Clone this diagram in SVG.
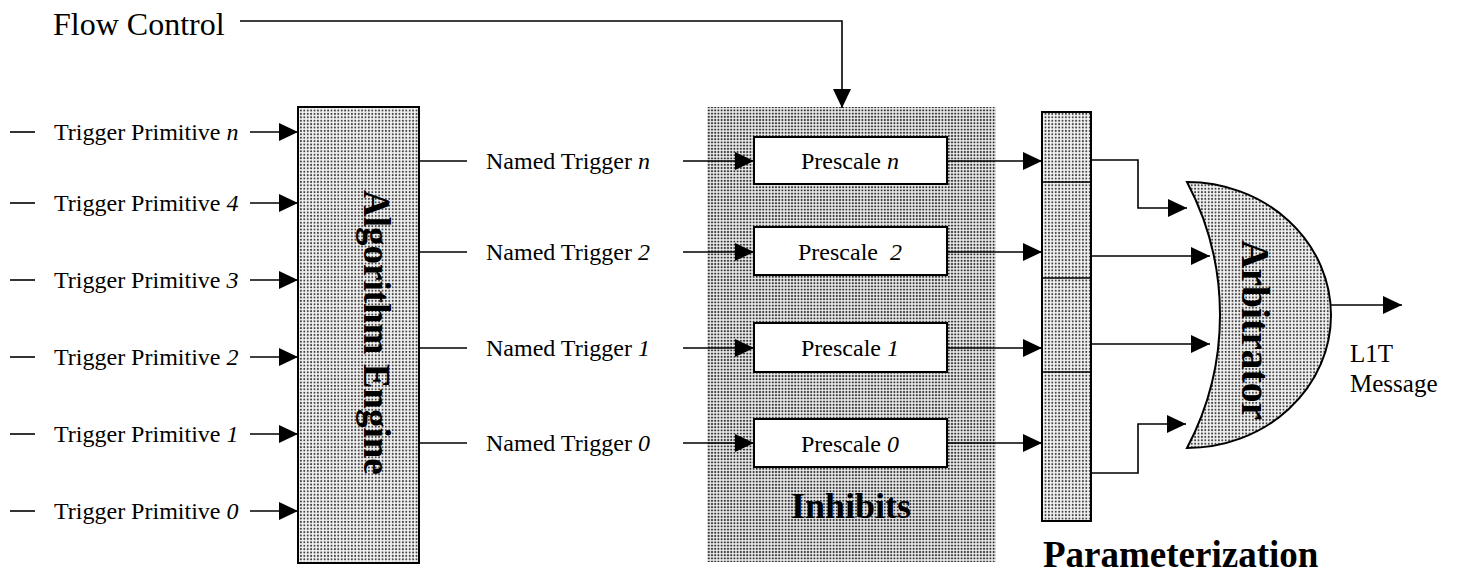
<svg xmlns="http://www.w3.org/2000/svg" width="1459" height="576" viewBox="0 0 1459 576">
<defs>
<pattern id="dots" width="3.4" height="3.4" patternUnits="userSpaceOnUse">
<rect width="3.4" height="3.4" fill="#f4f4f4"/>
<circle cx="1.7" cy="1.7" r="1" fill="#404040"/>
</pattern>
<pattern id="dotsdark" width="3.2" height="3.2" patternUnits="userSpaceOnUse">
<rect width="3.2" height="3.2" fill="#ececec"/>
<circle cx="1.6" cy="1.6" r="1.05" fill="#2e2e2e"/>
</pattern>
<marker id="ah" viewBox="0 0 19 18" refX="19" refY="9" markerWidth="19" markerHeight="18" markerUnits="userSpaceOnUse" orient="auto">
<path d="M0,0 L19,9 L0,18 z" fill="#000"/>
</marker>
</defs>
<style>
.lbl{font-family:"Liberation Serif","Times New Roman",serif;font-size:24px;fill:#000}
.big{font-family:"Liberation Serif","Times New Roman",serif;font-weight:bold;fill:#000}
.it{font-style:italic}
.box{fill:url(#dots);stroke:#000;stroke-width:2}
.pbox{fill:#fff;stroke:#000;stroke-width:2}
.ln{fill:none;stroke:#000;stroke-width:1.6}
.arr{fill:none;stroke:#000;stroke-width:1.6;marker-end:url(#ah)}
</style>

<g id="flow-control">
<text class="lbl" x="53" y="35" style="font-size:32px">Flow Control</text>
</g>

<g id="trigger-primitives">
<text class="lbl" x="54" y="140">Trigger Primitive <tspan class="it">n</tspan></text>
<text class="lbl" x="54" y="211">Trigger Primitive <tspan class="it">4</tspan></text>
<text class="lbl" x="54" y="288">Trigger Primitive <tspan class="it">3</tspan></text>
<text class="lbl" x="54" y="365">Trigger Primitive <tspan class="it">2</tspan></text>
<text class="lbl" x="54" y="442">Trigger Primitive <tspan class="it">1</tspan></text>
<text class="lbl" x="54" y="519">Trigger Primitive <tspan class="it">0</tspan></text>
</g>

<g id="algorithm-engine">
<rect class="box" x="298" y="107" width="121" height="456"/>
<text class="big" style="font-size:37px" transform="translate(364,190) rotate(90)">Algorithm Engine</text>
</g>

<g id="named-triggers">
<text class="lbl" x="486" y="169">Named Trigger <tspan class="it">n</tspan></text>
<text class="lbl" x="486" y="260">Named Trigger <tspan class="it">2</tspan></text>
<text class="lbl" x="486" y="356">Named Trigger <tspan class="it">1</tspan></text>
<text class="lbl" x="486" y="451">Named Trigger <tspan class="it">0</tspan></text>
</g>

<g id="inhibits">
<rect x="707" y="107" width="289" height="455" fill="url(#dotsdark)"/>
<text class="big" x="851" y="518" text-anchor="middle" style="font-size:36px">Inhibits</text>
</g>

<g id="prescale-n">
<rect class="pbox" x="754" y="137" width="193" height="47"/>
<text class="lbl" x="850" y="169" text-anchor="middle">Prescale <tspan class="it">n</tspan></text>
</g>
<g id="prescale-2">
<rect class="pbox" x="754" y="227" width="193" height="48"/>
<text class="lbl" x="850" y="260" text-anchor="middle" xml:space="preserve">Prescale  <tspan class="it">2</tspan></text>
</g>
<g id="prescale-1">
<rect class="pbox" x="754" y="323" width="193" height="49"/>
<text class="lbl" x="850" y="356" text-anchor="middle">Prescale <tspan class="it">1</tspan></text>
</g>
<g id="prescale-0">
<rect class="pbox" x="754" y="419" width="193" height="48"/>
<text class="lbl" x="850" y="452" text-anchor="middle">Prescale <tspan class="it">0</tspan></text>
</g>

<g id="parameterization">
<rect class="box" x="1042" y="112" width="49" height="409"/>
<line class="ln" x1="1042" y1="182" x2="1091" y2="182"/>
<line class="ln" x1="1042" y1="278" x2="1091" y2="278"/>
<line class="ln" x1="1042" y1="372" x2="1091" y2="372"/>
<text class="big" x="1043" y="567" style="font-size:37px">Parameterization</text>
</g>

<g id="arbitrator">
<path d="M1187,182 A144,133 0 0 1 1187,448 A284.5,284.5 0 0 0 1187,182 z" fill="url(#dots)" stroke="#000" stroke-width="2"/>
<text class="big" style="font-size:40px" textLength="180" lengthAdjust="spacingAndGlyphs" transform="translate(1242,240) rotate(90)">Arbitrator</text>
</g>

<g id="l1t-message">
<text class="lbl" x="1350" y="362" style="font-size:25px">L1T</text>
<text class="lbl" x="1350" y="392" style="font-size:25px">Message</text>
</g>

<g id="connectors">
<polyline class="arr" points="240,21 842,21 842,108"/>
<line class="ln" x1="10" y1="132" x2="35" y2="132"/>
<line class="ln" x1="10" y1="203" x2="35" y2="203"/>
<line class="ln" x1="10" y1="280" x2="35" y2="280"/>
<line class="ln" x1="10" y1="357" x2="35" y2="357"/>
<line class="ln" x1="10" y1="434" x2="35" y2="434"/>
<line class="ln" x1="10" y1="511" x2="35" y2="511"/>
<line class="arr" x1="250" y1="132" x2="298" y2="132"/>
<line class="arr" x1="250" y1="203" x2="298" y2="203"/>
<line class="arr" x1="250" y1="280" x2="298" y2="280"/>
<line class="arr" x1="250" y1="357" x2="298" y2="357"/>
<line class="arr" x1="250" y1="434" x2="298" y2="434"/>
<line class="arr" x1="250" y1="511" x2="298" y2="511"/>
<line class="ln" x1="419" y1="161" x2="467" y2="161"/>
<line class="ln" x1="419" y1="252" x2="467" y2="252"/>
<line class="ln" x1="419" y1="348" x2="467" y2="348"/>
<line class="ln" x1="419" y1="443" x2="467" y2="443"/>
<line class="arr" x1="683" y1="161" x2="754" y2="161"/>
<line class="arr" x1="683" y1="252" x2="754" y2="252"/>
<line class="arr" x1="683" y1="348" x2="754" y2="348"/>
<line class="arr" x1="683" y1="443" x2="754" y2="443"/>
<line class="arr" x1="947" y1="161" x2="1042" y2="161"/>
<line class="arr" x1="947" y1="252" x2="1042" y2="252"/>
<line class="arr" x1="947" y1="348" x2="1042" y2="348"/>
<line class="arr" x1="947" y1="443" x2="1042" y2="443"/>
<polyline class="arr" points="1091,160 1138,160 1138,208 1187,208"/>
<line class="arr" x1="1091" y1="256" x2="1210" y2="256"/>
<line class="arr" x1="1091" y1="344" x2="1210" y2="344"/>
<polyline class="arr" points="1091,473 1138,473 1138,424 1186,424"/>
<line class="arr" x1="1331" y1="305" x2="1402" y2="305"/>
</g>
</svg>
